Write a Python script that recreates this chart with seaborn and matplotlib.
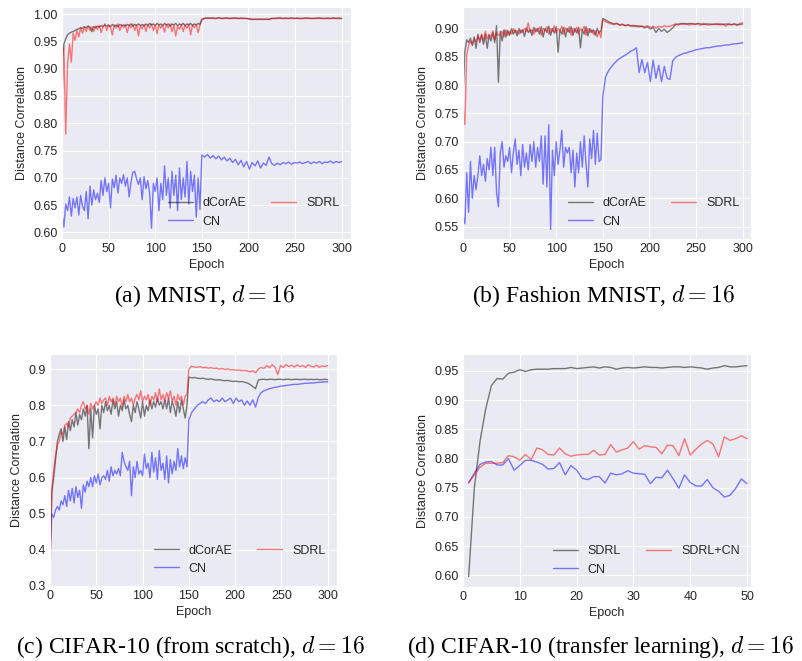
import numpy as np
import matplotlib
matplotlib.use("Agg")
import matplotlib.pyplot as plt
import seaborn as sns

# epoch grid for the 300-epoch runs: every 2 epochs before the LR drop, every 3 after
EPOCHS_300 = list(range(0, 150, 2)) + list(range(150, 301, 3))
EPOCHS_50 = list(range(1, 51))

# (a) MNIST
mnist_dcorae = [
    0.905, 0.945, 0.955, 0.962, 0.965, 0.967, 0.968, 0.970, 0.972, 0.973,
    0.975, 0.974, 0.977, 0.975, 0.978, 0.976, 0.968, 0.977, 0.975, 0.978,
    0.976, 0.979, 0.977, 0.980, 0.978, 0.980, 0.977, 0.981, 0.978, 0.980,
    0.977, 0.981, 0.979, 0.980, 0.978, 0.981, 0.979, 0.982, 0.978, 0.981,
    0.979, 0.982, 0.979, 0.981, 0.978, 0.982, 0.979, 0.983, 0.980, 0.982,
    0.979, 0.983, 0.980, 0.982, 0.979, 0.983, 0.980, 0.982, 0.978, 0.982,
    0.980, 0.983, 0.979, 0.982, 0.980, 0.983, 0.979, 0.982, 0.980, 0.983,
    0.979, 0.982, 0.980, 0.983, 0.981,
    0.991, 0.992, 0.993, 0.992, 0.993, 0.992, 0.993, 0.992, 0.992, 0.993,
    0.992, 0.992, 0.993, 0.992, 0.992, 0.992, 0.992, 0.991, 0.990, 0.991,
    0.990, 0.991, 0.990, 0.991, 0.990, 0.992, 0.992, 0.992, 0.993, 0.992,
    0.992, 0.992, 0.993, 0.992, 0.992, 0.992, 0.992, 0.993, 0.992, 0.992,
    0.992, 0.992, 0.993, 0.992, 0.992, 0.992, 0.992, 0.993, 0.992, 0.992,
    0.992,
]
mnist_cn = [
    0.635, 0.610, 0.652, 0.640, 0.665, 0.630, 0.662, 0.645, 0.665, 0.632,
    0.668, 0.648, 0.640, 0.675, 0.625, 0.685, 0.650, 0.678, 0.660, 0.672,
    0.655, 0.695, 0.668, 0.700, 0.675, 0.690, 0.645, 0.698, 0.682, 0.705,
    0.672, 0.700, 0.690, 0.706, 0.685, 0.700, 0.665, 0.692, 0.710, 0.712,
    0.698, 0.688, 0.700, 0.660, 0.702, 0.680, 0.695, 0.672, 0.608, 0.690,
    0.675, 0.700, 0.640, 0.690, 0.660, 0.722, 0.668, 0.700, 0.645, 0.712,
    0.668, 0.705, 0.640, 0.718, 0.660, 0.700, 0.665, 0.730, 0.652, 0.712,
    0.675, 0.705, 0.628, 0.700, 0.642,
    0.742, 0.738, 0.743, 0.736, 0.741, 0.735, 0.740, 0.733, 0.738, 0.731,
    0.736, 0.728, 0.734, 0.724, 0.732, 0.720, 0.730, 0.716, 0.728, 0.722,
    0.731, 0.718, 0.727, 0.723, 0.738, 0.726, 0.723, 0.727, 0.724, 0.728,
    0.726, 0.729, 0.725, 0.728, 0.727, 0.729, 0.726, 0.728, 0.730, 0.726,
    0.729, 0.727, 0.730, 0.726, 0.729, 0.728, 0.731, 0.727, 0.730, 0.728,
    0.730,
]
mnist_sdrl = [
    0.840, 0.940, 0.780, 0.910, 0.945, 0.912, 0.965, 0.952, 0.970, 0.958,
    0.975, 0.965, 0.976, 0.968, 0.978, 0.970, 0.977, 0.968, 0.978, 0.972,
    0.979, 0.966, 0.977, 0.982, 0.970, 0.980, 0.975, 0.962, 0.980, 0.974,
    0.982, 0.970, 0.980, 0.975, 0.981, 0.966, 0.980, 0.975, 0.982, 0.970,
    0.980, 0.960, 0.979, 0.973, 0.981, 0.968, 0.980, 0.975, 0.982, 0.970,
    0.980, 0.964, 0.981, 0.974, 0.980, 0.967, 0.981, 0.975, 0.982, 0.968,
    0.980, 0.960, 0.978, 0.972, 0.981, 0.968, 0.980, 0.974, 0.982, 0.962,
    0.980, 0.975, 0.981, 0.966, 0.980,
    0.988, 0.993, 0.992, 0.993, 0.992, 0.992, 0.993, 0.992, 0.993, 0.992,
    0.992, 0.993, 0.992, 0.992, 0.993, 0.992, 0.992, 0.991, 0.991, 0.990,
    0.991, 0.990, 0.991, 0.990, 0.991, 0.992, 0.992, 0.993, 0.992, 0.992,
    0.993, 0.992, 0.992, 0.992, 0.993, 0.992, 0.992, 0.992, 0.993, 0.992,
    0.992, 0.993, 0.992, 0.992, 0.992, 0.993, 0.992, 0.992, 0.992, 0.993,
    0.992,
]

# (b) Fashion MNIST
fashion_dcorae = [
    0.780, 0.860, 0.880, 0.875, 0.883, 0.870, 0.885, 0.865, 0.890, 0.875,
    0.888, 0.872, 0.890, 0.865, 0.888, 0.878, 0.893, 0.875, 0.905, 0.805,
    0.895, 0.878, 0.898, 0.885, 0.897, 0.888, 0.900, 0.890, 0.898, 0.887,
    0.900, 0.892, 0.898, 0.886, 0.901, 0.893, 0.899, 0.888, 0.902, 0.894,
    0.900, 0.890, 0.903, 0.885, 0.900, 0.893, 0.904, 0.888, 0.900, 0.892,
    0.903, 0.858, 0.898, 0.890, 0.902, 0.885, 0.900, 0.893, 0.903, 0.888,
    0.900, 0.892, 0.902, 0.866, 0.898, 0.890, 0.903, 0.887, 0.900, 0.893,
    0.898, 0.888, 0.900, 0.892, 0.896,
    0.918, 0.915, 0.912, 0.910, 0.908, 0.909, 0.906, 0.907, 0.905, 0.906,
    0.905, 0.904, 0.905, 0.903, 0.904, 0.901, 0.903, 0.899, 0.902, 0.893,
    0.900, 0.895, 0.899, 0.893, 0.897, 0.901, 0.907, 0.908, 0.908, 0.909,
    0.908, 0.909, 0.908, 0.908, 0.909, 0.908, 0.907, 0.908, 0.908, 0.907,
    0.908, 0.907, 0.908, 0.907, 0.908, 0.907, 0.907, 0.908, 0.907, 0.907,
    0.908,
]
fashion_cn = [
    0.570, 0.555, 0.645, 0.575, 0.665, 0.600, 0.640, 0.615, 0.640, 0.675,
    0.640, 0.660, 0.630, 0.670, 0.650, 0.690, 0.640, 0.690, 0.610, 0.585,
    0.680, 0.700, 0.655, 0.675, 0.665, 0.690, 0.645, 0.680, 0.705, 0.660,
    0.685, 0.640, 0.695, 0.655, 0.680, 0.650, 0.695, 0.665, 0.700, 0.655,
    0.690, 0.665, 0.710, 0.625, 0.710, 0.620, 0.730, 0.545, 0.685, 0.640,
    0.700, 0.660, 0.685, 0.720, 0.655, 0.690, 0.680, 0.690, 0.645, 0.685,
    0.620, 0.680, 0.645, 0.700, 0.655, 0.710, 0.660, 0.620, 0.705, 0.670,
    0.720, 0.660, 0.715, 0.665, 0.668,
    0.780, 0.815, 0.825, 0.832, 0.838, 0.843, 0.847, 0.850, 0.853, 0.856,
    0.860, 0.862, 0.866, 0.822, 0.845, 0.822, 0.840, 0.806, 0.844, 0.812,
    0.835, 0.806, 0.833, 0.812, 0.810, 0.843, 0.849, 0.852, 0.854, 0.856,
    0.857, 0.859, 0.860, 0.862, 0.863, 0.864, 0.865, 0.866, 0.866, 0.867,
    0.868, 0.869, 0.869, 0.870, 0.871, 0.871, 0.872, 0.873, 0.873, 0.874,
    0.875,
]
fashion_sdrl = [
    0.760, 0.730, 0.855, 0.870, 0.878, 0.872, 0.882, 0.876, 0.886, 0.880,
    0.890, 0.878, 0.895, 0.882, 0.890, 0.885, 0.896, 0.880, 0.893, 0.888,
    0.890, 0.895, 0.885, 0.898, 0.888, 0.895, 0.890, 0.900, 0.893, 0.896,
    0.890, 0.898, 0.893, 0.900, 0.895, 0.910, 0.893, 0.898, 0.890, 0.900,
    0.895, 0.902, 0.888, 0.900, 0.896, 0.903, 0.890, 0.900, 0.895, 0.905,
    0.892, 0.900, 0.896, 0.904, 0.890, 0.901, 0.895, 0.903, 0.888, 0.900,
    0.894, 0.902, 0.890, 0.900, 0.896, 0.904, 0.888, 0.900, 0.893, 0.898,
    0.890, 0.896, 0.885, 0.895, 0.884,
    0.915, 0.912, 0.910, 0.908, 0.907, 0.909, 0.906, 0.908, 0.905, 0.907,
    0.904, 0.906, 0.903, 0.905, 0.904, 0.903, 0.905, 0.902, 0.904, 0.901,
    0.904, 0.902, 0.905, 0.903, 0.904, 0.906, 0.908, 0.906, 0.909, 0.907,
    0.908, 0.906, 0.909, 0.907, 0.908, 0.906, 0.909, 0.907, 0.906, 0.908,
    0.907, 0.909, 0.906, 0.908, 0.904, 0.909, 0.906, 0.908, 0.905, 0.909,
    0.910,
]

# (c) CIFAR-10 from scratch
cifar_dcorae = [
    0.370, 0.560, 0.600, 0.650, 0.700, 0.720, 0.735, 0.700, 0.740, 0.705,
    0.755, 0.730, 0.760, 0.740, 0.780, 0.745, 0.775, 0.760, 0.790, 0.770,
    0.800, 0.680, 0.790, 0.710, 0.800, 0.775, 0.790, 0.735, 0.800, 0.780,
    0.810, 0.785, 0.800, 0.775, 0.815, 0.790, 0.810, 0.770, 0.800, 0.785,
    0.815, 0.790, 0.800, 0.775, 0.755, 0.800, 0.780, 0.810, 0.790, 0.765,
    0.810, 0.770, 0.800, 0.785, 0.815, 0.790, 0.810, 0.795, 0.820, 0.800,
    0.810, 0.790, 0.815, 0.790, 0.820, 0.780, 0.810, 0.795, 0.770, 0.810,
    0.780, 0.815, 0.790, 0.765, 0.800,
    0.878, 0.876, 0.877, 0.875, 0.874, 0.875, 0.873, 0.872, 0.873, 0.871,
    0.870, 0.871, 0.869, 0.868, 0.869, 0.867, 0.866, 0.867, 0.865, 0.866,
    0.864, 0.862, 0.858, 0.852, 0.846, 0.870, 0.872, 0.872, 0.871, 0.872,
    0.872, 0.871, 0.872, 0.872, 0.871, 0.872, 0.872, 0.871, 0.872, 0.872,
    0.871, 0.872, 0.872, 0.871, 0.872, 0.871, 0.872, 0.871, 0.871, 0.872,
    0.871,
]
cifar_cn = [
    0.390, 0.500, 0.490, 0.510, 0.520, 0.510, 0.535, 0.525, 0.550, 0.520,
    0.565, 0.535, 0.570, 0.530, 0.575, 0.545, 0.565, 0.515, 0.580, 0.560,
    0.590, 0.575, 0.600, 0.575, 0.605, 0.585, 0.610, 0.580, 0.600, 0.605,
    0.595, 0.620, 0.590, 0.630, 0.605, 0.620, 0.610, 0.625, 0.605, 0.670,
    0.645, 0.630, 0.620, 0.645, 0.550, 0.630, 0.600, 0.645, 0.610, 0.620,
    0.605, 0.665, 0.625, 0.640, 0.600, 0.670, 0.615, 0.655, 0.595, 0.675,
    0.620, 0.640, 0.595, 0.660, 0.585, 0.650, 0.610, 0.645, 0.620, 0.680,
    0.630, 0.660, 0.625, 0.655, 0.630,
    0.760, 0.780, 0.790, 0.800, 0.805, 0.810, 0.805, 0.815, 0.820, 0.810,
    0.815, 0.810, 0.820, 0.810, 0.815, 0.820, 0.805, 0.820, 0.810, 0.815,
    0.800, 0.812, 0.800, 0.815, 0.795, 0.822, 0.835, 0.840, 0.843, 0.846,
    0.848, 0.850, 0.851, 0.853, 0.854, 0.855, 0.856, 0.857, 0.858, 0.858,
    0.859, 0.860, 0.861, 0.861, 0.862, 0.862, 0.863, 0.864, 0.864, 0.865,
    0.865,
]
cifar_sdrl = [
    0.325, 0.570, 0.620, 0.660, 0.690, 0.700, 0.725, 0.720, 0.745, 0.750,
    0.740, 0.765, 0.770, 0.775, 0.780, 0.790, 0.780, 0.800, 0.810, 0.790,
    0.800, 0.775, 0.805, 0.790, 0.800, 0.810, 0.800, 0.820, 0.805, 0.815,
    0.820, 0.800, 0.825, 0.810, 0.820, 0.800, 0.825, 0.810, 0.820, 0.795,
    0.825, 0.810, 0.830, 0.810, 0.820, 0.800, 0.820, 0.830, 0.815, 0.840,
    0.810, 0.825, 0.815, 0.830, 0.800, 0.825, 0.815, 0.835, 0.810, 0.845,
    0.815, 0.830, 0.810, 0.835, 0.820, 0.840, 0.810, 0.825, 0.800, 0.830,
    0.815, 0.825, 0.800, 0.825, 0.830,
    0.900, 0.908, 0.906, 0.905, 0.907, 0.904, 0.905, 0.903, 0.904, 0.902,
    0.903, 0.900, 0.902, 0.899, 0.901, 0.898, 0.899, 0.897, 0.898, 0.896,
    0.897, 0.895, 0.893, 0.896, 0.890, 0.900, 0.905, 0.902, 0.910, 0.904,
    0.912, 0.906, 0.885, 0.910, 0.905, 0.913, 0.907, 0.911, 0.906, 0.912,
    0.907, 0.910, 0.905, 0.912, 0.908, 0.906, 0.911, 0.905, 0.909, 0.907,
    0.910,
]

# (d) CIFAR-10 transfer learning, epochs 1..50
transfer_sdrl = [
    0.598, 0.750, 0.830, 0.885, 0.925, 0.937, 0.936, 0.946, 0.948, 0.952,
    0.949, 0.952, 0.953, 0.953, 0.953, 0.954, 0.954, 0.954, 0.956, 0.954,
    0.955, 0.956, 0.957, 0.955, 0.957, 0.956, 0.953, 0.955, 0.956, 0.955,
    0.956, 0.957, 0.956, 0.956, 0.955, 0.956, 0.957, 0.957, 0.956, 0.957,
    0.956, 0.955, 0.953, 0.955, 0.956, 0.959, 0.957, 0.957, 0.958, 0.959,
]
transfer_cn = [
    0.758, 0.775, 0.790, 0.794, 0.795, 0.789, 0.789, 0.800, 0.780, 0.788,
    0.797, 0.797, 0.794, 0.790, 0.782, 0.783, 0.793, 0.772, 0.788, 0.780,
    0.766, 0.764, 0.769, 0.769, 0.758, 0.775, 0.772, 0.774, 0.779, 0.775,
    0.774, 0.773, 0.757, 0.768, 0.767, 0.780, 0.765, 0.749, 0.772, 0.759,
    0.753, 0.753, 0.764, 0.750, 0.744, 0.734, 0.737, 0.749, 0.765, 0.757,
]
transfer_sdrl_cn = [
    0.759, 0.772, 0.785, 0.792, 0.792, 0.792, 0.793, 0.805, 0.803, 0.797,
    0.807, 0.798, 0.818, 0.815, 0.807, 0.806, 0.818, 0.808, 0.804, 0.806,
    0.807, 0.807, 0.814, 0.806, 0.807, 0.824, 0.811, 0.815, 0.818, 0.829,
    0.816, 0.822, 0.820, 0.819, 0.808, 0.823, 0.822, 0.805, 0.834, 0.806,
    0.816, 0.825, 0.831, 0.825, 0.803, 0.837, 0.831, 0.834, 0.839, 0.834,
]

captions = [
    "(a) MNIST, $d=16$",
    "(b) Fashion MNIST, $d=16$",
    "(c) CIFAR-10 (from scratch), $d=16$",
    "(d) CIFAR-10 (transfer learning), $d=16$",
]

sns.set_style("darkgrid")
plt.rcParams["font.family"] = ["Liberation Sans", "DejaVu Sans"]
plt.rcParams["mathtext.fontset"] = "cm"


def draw_panel(ax, x, series, xlim, ylim, yticks, fmt):
    for y, label, color in series:
        sns.lineplot(x=x, y=y, ax=ax, color=color, alpha=0.5, linewidth=1.0, label=label)
    ax.set_xlim(*xlim)
    ax.set_ylim(*ylim)
    ax.set_yticks(yticks)
    ax.set_yticklabels([fmt.format(t) for t in yticks])
    ax.tick_params(labelsize=9, length=0, pad=3)
    ax.set_xlabel("Epoch", fontsize=9, labelpad=3)
    ax.set_ylabel("Distance Correlation", fontsize=9, labelpad=4)
    ax.legend(ncol=2, loc="lower right", fontsize=9, frameon=False)


W, H = 803, 661
fig = plt.figure(figsize=(W / 100, H / 100), dpi=100)


def px_axes(left, top, right, bottom):
    return fig.add_axes([left / W, 1 - bottom / H, (right - left) / W, (bottom - top) / H])


ax_a = px_axes(62, 7, 351, 239)
ax_b = px_axes(463, 7, 751, 239)
ax_c = px_axes(50, 354, 337, 586)
ax_d = px_axes(463, 354, 751, 587)

draw_panel(ax_a, EPOCHS_300,
           [(mnist_dcorae, "dCorAE", "k"), (mnist_cn, "CN", "b"), (mnist_sdrl, "SDRL", "r")],
           (0, 310), (0.588, 1.013), np.arange(0.60, 1.001, 0.05), "{:.2f}")
draw_panel(ax_b, EPOCHS_300,
           [(fashion_dcorae, "dCorAE", "k"), (fashion_cn, "CN", "b"), (fashion_sdrl, "SDRL", "r")],
           (0, 309), (0.528, 0.938), np.arange(0.55, 0.901, 0.05), "{:.2f}")
draw_panel(ax_c, EPOCHS_300,
           [(cifar_dcorae, "dCorAE", "k"), (cifar_cn, "CN", "b"), (cifar_sdrl, "SDRL", "r")],
           (0, 310), (0.3, 0.942), np.arange(0.3, 0.901, 0.1), "{:.1f}")
draw_panel(ax_d, EPOCHS_50,
           [(transfer_sdrl, "SDRL", "k"), (transfer_cn, "CN", "b"), (transfer_sdrl_cn, "SDRL+CN", "r")],
           (0, 50.7), (0.58, 0.979), np.arange(0.60, 0.951, 0.05), "{:.2f}")
ax_a.set_xticks(range(0, 301, 50))
ax_b.set_xticks(range(0, 301, 50))
ax_c.set_xticks(range(0, 301, 50))
ax_d.set_xticks(range(0, 51, 10))

# sub-figure captions
for (cx, cy), text in zip([(204, 296), (603, 296), (190, 647), (600, 647)], captions):
    fig.text(cx / W, 1 - cy / H, text, ha="center", va="center", fontsize=17,
             family="Liberation Serif", color="black")

fig.savefig("out.png", dpi=100)
